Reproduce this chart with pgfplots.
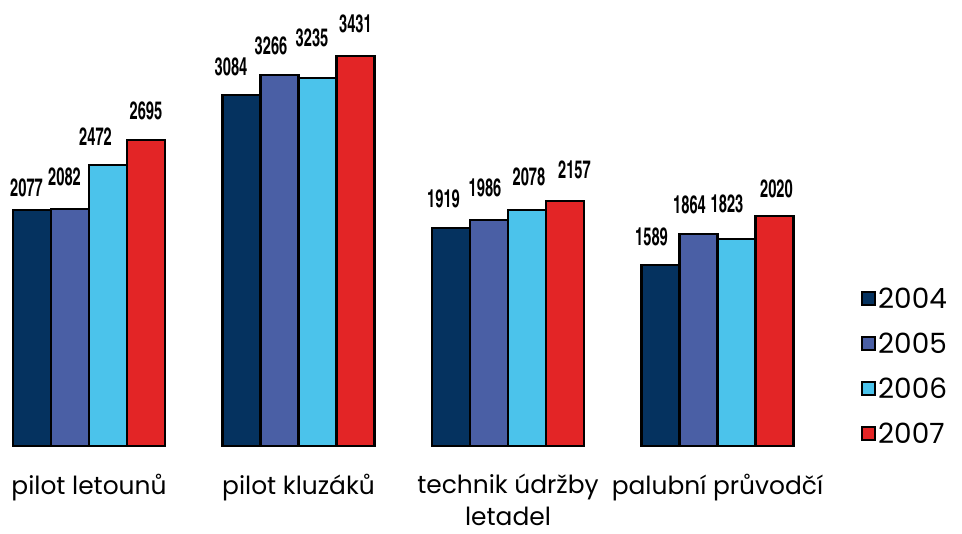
\documentclass[border=0pt]{standalone}
\usepackage{fontspec}
\usepackage{pgfplots}
\usepackage{pgfplotstable}
\pgfplotsset{compat=1.18}
\setmainfont{Poppins}
\newfontfamily\valfont{texgyreheroscn-bold.otf}[FakeStretch=0.72]
\definecolor{c04}{HTML}{05325F}
\definecolor{c05}{HTML}{4A5FA5}
\definecolor{c06}{HTML}{4BC3EB}
\definecolor{c07}{HTML}{E32526}
% x = category, y = value, dx/dy = label offset (px)
\pgfplotstableread{
x y dx dy
0 2077 -5.5 12
1 3084 -10.5 18
2 1919 -7.5 19
3 1589 -9 18
}\tA
\pgfplotstableread{
x y dx dy
0 2082 -5.5 22
1 3266 -8.5 19
2 1986 -4 22
3 1864 -9 19
}\tB
\pgfplotstableread{
x y dx dy
0 2472 -12.5 18
1 3235 -5.5 30
2 2078 2 23
3 1823 -9.5 25
}\tC
\pgfplotstableread{
x y dx dy
0 2695 0 19
1 3431 0 22
2 2157 9.5 21
3 2020 2 17
}\tD
\begin{document}
\begin{tikzpicture}
\useasboundingbox (0,-88bp) rectangle (962bp,446bp);
\begin{axis}[
  at={(0,0)}, anchor=south west,
  scale only axis, width=962bp, height=446bp,
  xmin=-0.4248, xmax=4.1671, ymin=0, ymax=3923,
  ybar=0pt, bar width=38bp,
  axis line style={draw=none}, tick style={draw=none},
  ytick=\empty,
  xtick={0,1,2,3},
  xticklabels={pilot letounů, pilot kluzáků, {technik údržby\\letadel}, palubní průvodčí},
  xticklabel style={align=center, anchor=north, yshift=-20bp, font=\fontsize{25}{32}\selectfont},
  /pgf/number format/.cd, 1000 sep={}, assume math mode=true, /pgfplots/.cd,
  visualization depends on={\thisrow{dx} \as \dx},
  visualization depends on={\thisrow{dy} \as \dy},
  nodes near coords,
  every node near coord/.append style={font=\valfont\fontsize{25}{25}\selectfont, text=black,
    anchor=south, inner sep=0pt, xshift={\dx*1pt}, yshift={\dy*1pt}},
  legend style={draw=none, fill=none, at={(0.895,0.36)}, anchor=north west,
    font=\fontsize{28}{28}\selectfont, row sep=19bp, inner sep=0pt},
  legend cell align=left,
  legend image code/.code={\draw[#1, line width=2bp] (0bp,-6.5bp) rectangle (13bp,6.5bp);},
]
\addplot[draw=black, line width=2.2bp, fill=c04] table[x=x, y=y] {\tA};
\addplot[draw=black, line width=2.2bp, fill=c05] table[x=x, y=y] {\tB};
\addplot[draw=black, line width=2.2bp, fill=c06] table[x=x, y=y] {\tC};
\addplot[draw=black, line width=2.2bp, fill=c07] table[x=x, y=y] {\tD};
\legend{2004,2005,2006,2007}
\end{axis}
\end{tikzpicture}
\end{document}
